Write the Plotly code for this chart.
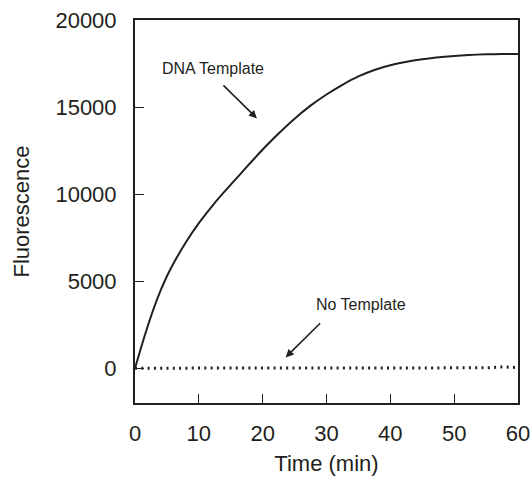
import plotly.graph_objects as go

time_min = [0, 1, 2, 3, 4, 5, 6, 8, 10, 12.5, 15, 17.5, 20, 22.5, 25, 27.5, 30, 32.5, 35, 37.5, 40, 45, 50, 55, 57.5, 60]
dna_template = [0, 1250, 2420, 3500, 4450, 5280, 6000, 7250, 8330, 9500, 10540, 11560, 12560, 13480, 14330, 15080, 15720, 16280, 16760, 17130, 17400, 17740, 17930, 18030, 18050, 18050]
no_template = [0] * 23 + [20, 70, 40]

x_ticks = [0, 10, 20, 30, 40, 50, 60]
y_ticks = [0, 5000, 10000, 15000, 20000]
y_tick_labels = ["0", "5000", "10000", "15000", "20000"]

ink = "#231f20"
font = "Liberation Sans, Arial, sans-serif"

fig = go.Figure()
fig.add_trace(go.Scatter(x=time_min, y=dna_template, mode="lines", line=dict(color=ink, width=2, shape="spline", smoothing=0.6), showlegend=False))
fig.add_trace(go.Scatter(x=time_min, y=no_template, mode="lines", line=dict(color=ink, width=3, dash="2px,4.3px"), showlegend=False))

fig.update_layout(
    width=532, height=477,
    margin=dict(l=135, r=14, t=20, b=74),
    paper_bgcolor="white", plot_bgcolor="white",
    font=dict(family=font, size=22, color=ink),
    xaxis=dict(range=[0, 60], tickvals=x_ticks, ticks="inside", ticklen=9, tickwidth=1.2, tickcolor=ink,
               showline=True, linecolor=ink, linewidth=2, mirror=True, showgrid=False, zeroline=False, automargin=False,
               title=dict(text="Time (min)", font=dict(size=22), standoff=10), ticklabelstandoff=10),
    yaxis=dict(range=[-2000, 20000], tickvals=y_ticks, ticktext=y_tick_labels, ticks="inside", ticklen=9, tickwidth=1.2, tickcolor=ink,
               showline=True, linecolor=ink, linewidth=2, mirror=True, showgrid=False, zeroline=False, automargin=False,
               title=dict(text="Fluorescence", font=dict(size=22), standoff=20), ticklabelstandoff=12),
)

fig.add_annotation(x=12.2, y=17218, text="DNA Template", showarrow=False, font=dict(size=16, color=ink))
fig.add_annotation(x=19.1, y=14349, ax=-35, ay=-34.5, text="", showarrow=True, arrowhead=2, arrowsize=1, arrowwidth=1.6, arrowcolor=ink)
fig.add_annotation(x=35.4, y=3678, text="No Template", showarrow=False, font=dict(size=16, color=ink))
fig.add_annotation(x=23.6, y=620, ax=36, ay=-35.6, text="", showarrow=True, arrowhead=2, arrowsize=1, arrowwidth=1.6, arrowcolor=ink)

fig.write_html("out.html", config={"displayModeBar": False},
               post_script="document.body.style.margin='0';document.body.style.overflow='hidden';")
